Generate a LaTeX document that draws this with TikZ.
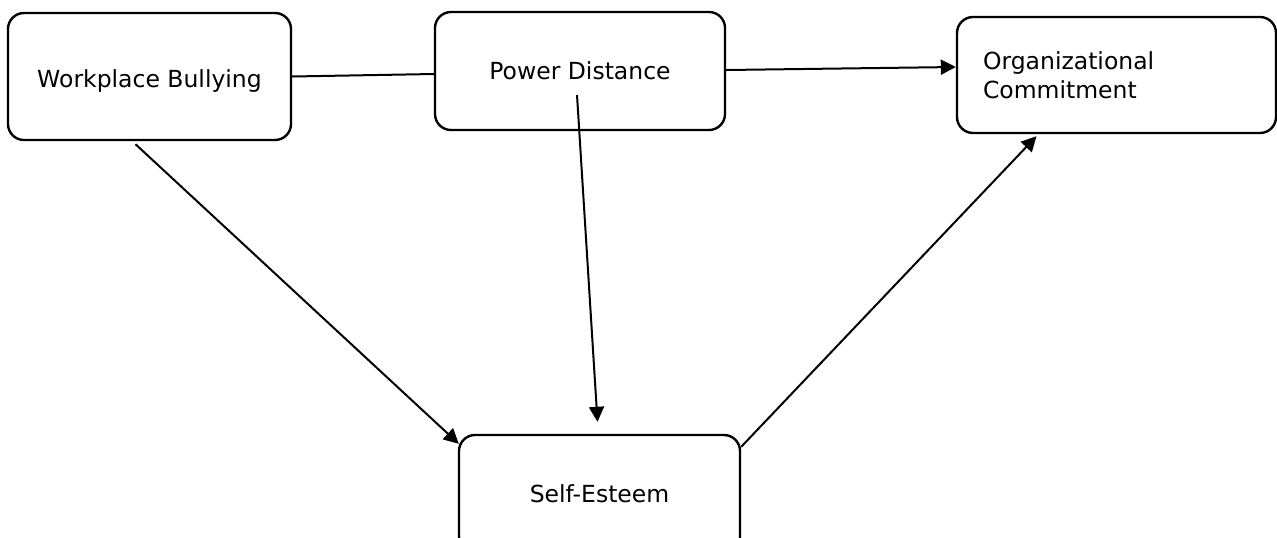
\documentclass[tikz,border=0pt]{standalone}
\usepackage{fontspec}
\setmainfont{DejaVu Sans}
\usetikzlibrary{arrows.meta}
\tikzset{
 concept/.style={draw,line width=1.2pt,rounded corners=8pt,inner sep=0pt,font=\fontsize{11.75}{14.5}\selectfont},
 link/.style={line width=1pt},
 arrowlink/.style={line width=1pt,-{Triangle[length=7.5pt,width=7.5pt]}}
}
\begin{document}
\begin{tikzpicture}[x=0.5pt,y=-0.5pt]
 \useasboundingbox (0,0) rectangle (1277,537);
 \node[concept,minimum width=141.5pt,minimum height=63.5pt,text height=13.5pt] (bully) at (149.5,76.5) {Workplace Bullying};
 \node[concept,minimum width=145pt,minimum height=59pt] (power) at (580,71) {Power Distance};
 \node[concept,minimum height=58pt,inner xsep=13pt,text width=133.5pt,align=left] (commit) at (1116.5,75) {Organizational\\Commitment};
 \node[concept,minimum width=140.5pt,minimum height=59pt] (esteem) at (599.5,494) {Self-Esteem};
 \draw[link] (bully.east) -- ([yshift=-1.5pt]power.west);
 \draw[arrowlink] ([yshift=0.5pt]power.east) -- ([yshift=4pt]commit.west);
 \draw[arrowlink] ([xshift=-1.5pt,yshift=-12pt]power.center) -- ([xshift=-1pt,yshift=6pt]esteem.north);
 \draw[arrowlink] ([xshift=-7pt,yshift=-1.5pt]bully.south) -- ([xshift=0.5pt,yshift=-5pt]esteem.north west);
 \draw[arrowlink] ([yshift=-6.5pt]esteem.north east) -- ([xshift=-40pt,yshift=-1pt]commit.south);
\end{tikzpicture}
\end{document}
